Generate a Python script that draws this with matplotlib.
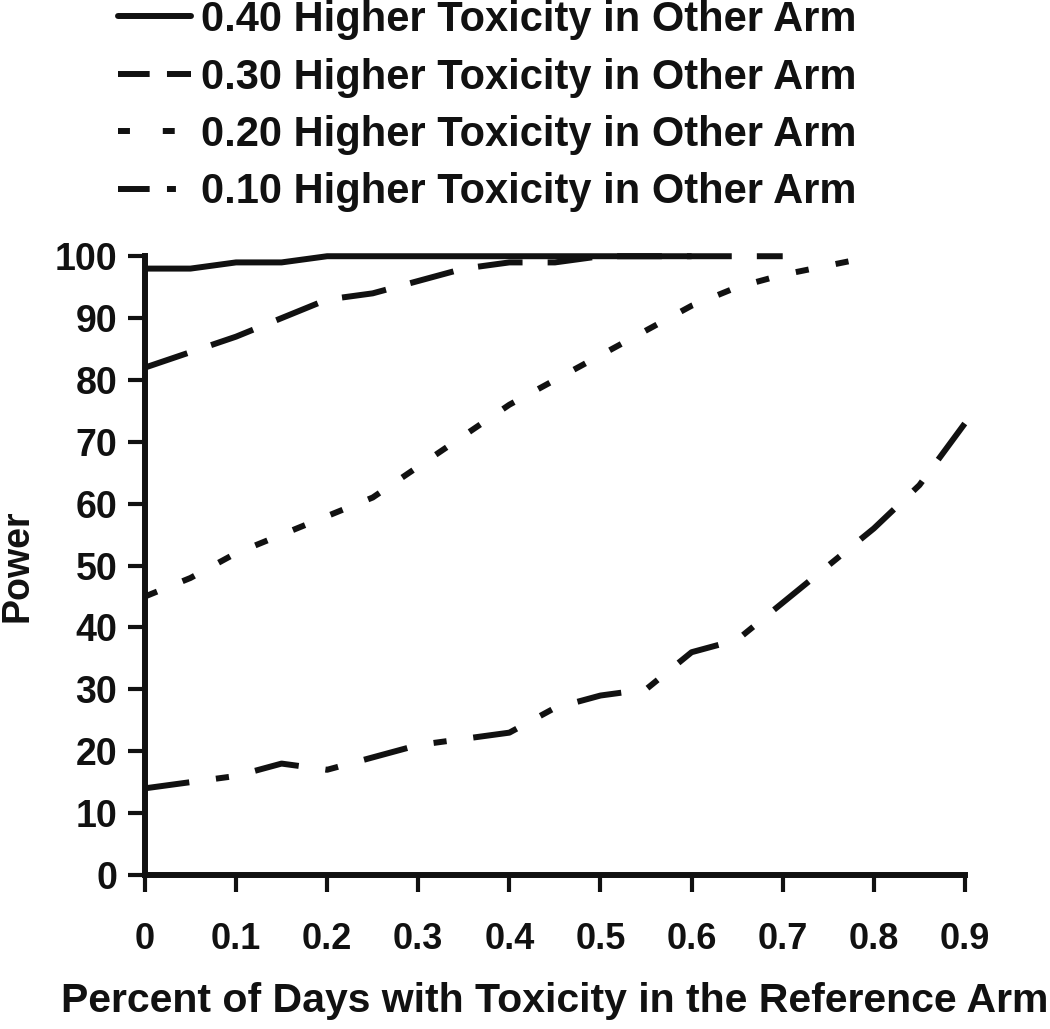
import matplotlib
matplotlib.use("Agg")
import matplotlib.pyplot as plt
from matplotlib.lines import Line2D

plt.rcParams["font.family"] = ["Liberation Sans Narrow", "Liberation Sans", "DejaVu Sans"]
plt.rcParams["font.weight"] = "bold"

# percent of days with toxicity in the reference arm
x_040 = [0, 0.05, 0.1, 0.15, 0.2, 0.25, 0.3, 0.35, 0.4, 0.45, 0.5, 0.55, 0.6]
p_040 = [98, 98, 99, 99, 100, 100, 100, 100, 100, 100, 100, 100, 100]

x_030 = [0, 0.05, 0.1, 0.15, 0.2, 0.25, 0.3, 0.35, 0.4, 0.45, 0.5, 0.55, 0.6, 0.65, 0.7]
p_030 = [82, 84.5, 87, 90, 93, 94, 96, 98, 99, 99, 100, 100, 100, 100, 100]

x_020 = [0, 0.05, 0.1, 0.15, 0.2, 0.25, 0.3, 0.35, 0.4, 0.45, 0.5, 0.55, 0.6,
         0.65, 0.7, 0.75, 0.8]
p_020 = [45, 48, 52, 55, 58, 61, 66, 71, 76, 80, 84, 88, 92, 95, 97, 98.5, 100]

x_010 = [0, 0.05, 0.1, 0.15, 0.2, 0.25, 0.3, 0.35, 0.4, 0.45, 0.5, 0.55, 0.6,
         0.65, 0.7, 0.75, 0.8, 0.85, 0.9]
p_010 = [14, 15, 16, 18, 17, 19, 21, 22, 23, 27, 29, 30, 36, 38, 44, 50, 56, 63, 73]

labels = [
    "0.40 Higher Toxicity in Other Arm",
    "0.30 Higher Toxicity in Other Arm",
    "0.20 Higher Toxicity in Other Arm",
    "0.10 Higher Toxicity in Other Arm",
]

ink = "#111111"
lw = 4.3

fig = plt.figure(figsize=(10.5, 10.29), dpi=100)
ax = fig.add_axes([0.138, 0.1497, 0.781, 0.6013])

ax.plot(x_040, p_040, color=ink, lw=lw, solid_capstyle="butt", clip_on=False)
ax.plot(x_030, p_030, color=ink, lw=lw, linestyle=(0, (7.5, 4.2)),
        dash_capstyle="butt", clip_on=False)
ax.plot(x_020, p_020, color=ink, lw=lw, linestyle=(0, (2.2, 4.6)),
        dash_capstyle="butt", clip_on=False)
ax.plot(x_010, p_010, color=ink, lw=lw, linestyle=(0, (7.5, 4.5, 2.2, 4.5)),
        dash_capstyle="butt", clip_on=False)

ax.set_xlim(0, 0.9)
ax.set_ylim(0, 100)

ax.set_xticks([0, 0.1, 0.2, 0.3, 0.4, 0.5, 0.6, 0.7, 0.8, 0.9])
ax.set_xticklabels(["0", "0.1", "0.2", "0.3", "0.4", "0.5", "0.6", "0.7", "0.8", "0.9"])
ax.set_yticks(range(0, 101, 10))

for side in ["top", "right"]:
    ax.spines[side].set_visible(False)
for side in ["left", "bottom"]:
    ax.spines[side].set_linewidth(4.3)
    ax.spines[side].set_color(ink)

ax.tick_params(axis="both", colors=ink, width=3, length=12, labelsize=26, pad=8)
ax.tick_params(axis="y", labelsize=27)
ax.tick_params(axis="x", pad=22)

ax.set_xlabel("Percent of Days with Toxicity in the Reference Arm",
              fontsize=29.5, fontweight="bold", color=ink, labelpad=18)
ax.set_ylabel("Power", fontsize=27, fontweight="bold", color=ink, labelpad=14)

# legend samples use shorter dashes, like the original legend
handles = [
    Line2D([], [], color=ink, lw=lw, solid_capstyle="round"),
    Line2D([], [], color=ink, lw=lw, linestyle=(0, (5.3, 2.9)), dash_capstyle="butt"),
    Line2D([], [], color=ink, lw=lw, linestyle=(0, (2.0, 5.5)), dash_capstyle="butt"),
    Line2D([], [], color=ink, lw=lw, linestyle=(0, (5.3, 2.9, 1.5, 4.0)),
           dash_capstyle="butt"),
]

fig.legend(handles, labels, loc="upper left",
           bbox_to_anchor=(0.112, 1.0), frameon=False, fontsize=30,
           borderpad=0, borderaxespad=0,
           handlelength=1.75, handletextpad=0.25, labelspacing=0.42,
           labelcolor=ink)

fig.savefig("out.png", dpi=100)
